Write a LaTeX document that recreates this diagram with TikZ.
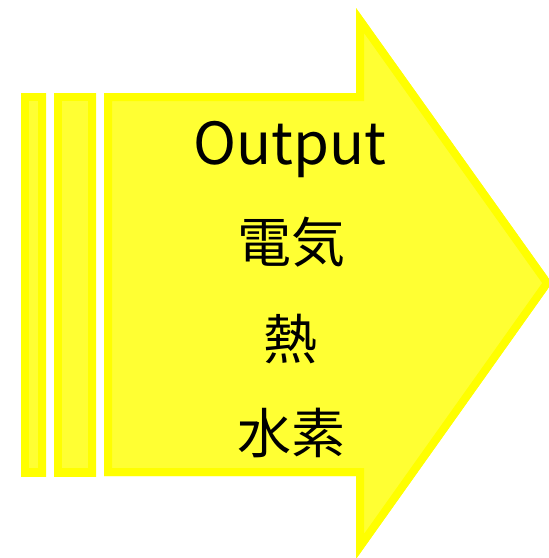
\documentclass[tikz,border=0pt]{standalone}
\usepackage{fontspec}
\newfontfamily\jp{Noto Sans CJK JP}
\definecolor{edgeY}{HTML}{FFFF00}
\definecolor{fillY}{HTML}{FFFF33}
\begin{document}
\begin{tikzpicture}[x=1pt,y=-1pt,
  lbl/.style={font=\jp\fontsize{54}{54}\selectfont, text=black, inner sep=0pt, anchor=center}]
\useasboundingbox (0,0) rectangle (549,558);
\clip (0,0) rectangle (549,558);
% bars
\foreach \a/\b [count=\i] in {21/46, 54/96}{
  \begin{scope}
    \path[fill=fillY] (\a,93) rectangle (\b,476);
    \clip (\a,93) rectangle (\b,476);
    \draw[edgeY, line width=16] (\a,93) rectangle (\b,476);
  \end{scope}
}
% arrow
\def\arrowpath{(104,93) -- (356,93) -- (356,8) -- (552,283) -- (356,559) -- (356,476) -- (104,476) -- cycle}
\begin{scope}
  \path[fill=fillY] \arrowpath;
  \clip \arrowpath;
  \draw[edgeY, line width=16, line join=miter] \arrowpath;
\end{scope}
\node[lbl, font=\jp\fontsize{58}{58}\selectfont] (out) at (290,150) {Output};
\node[lbl] (elec) at (291,242) {電気};
\node[lbl] (heat) at (290,339) {熱};
\node[lbl] (h2) at (291,433) {水素};
\end{tikzpicture}
\end{document}
